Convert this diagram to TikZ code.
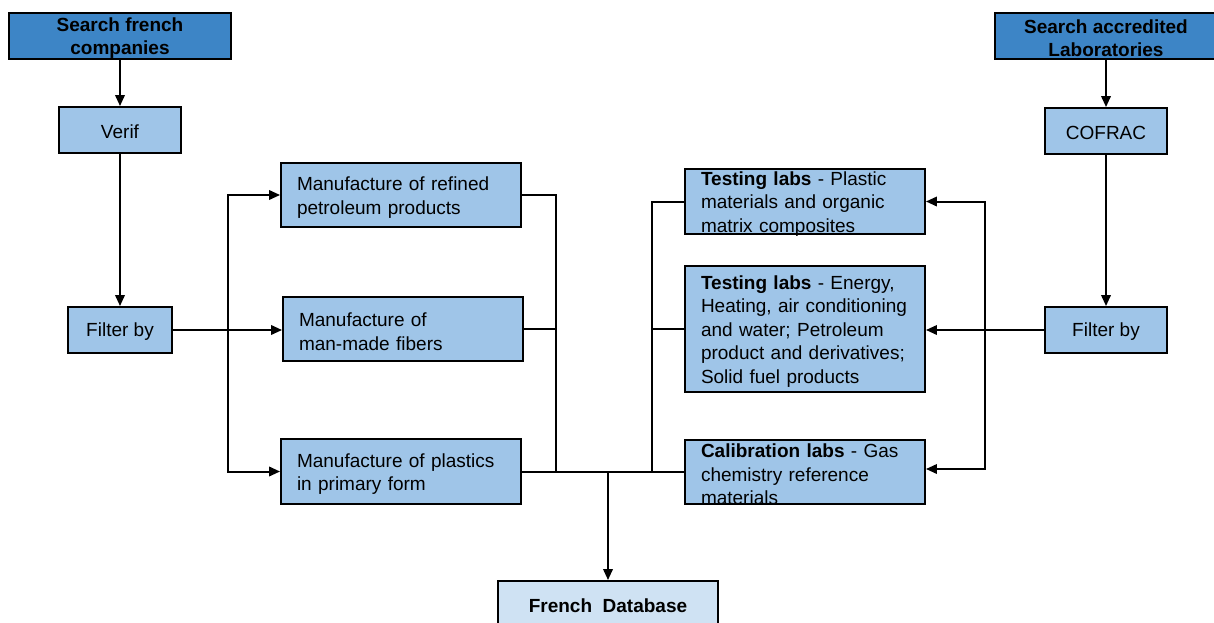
\documentclass[tikz,border=0pt]{standalone}
\usepackage{fontspec}
\setmainfont{Liberation Sans}
\usetikzlibrary{arrows.meta,calc}
\definecolor{hdrblue}{HTML}{3D85C6}
\definecolor{boxblue}{HTML}{9FC5E8}
\definecolor{dbblue}{HTML}{CFE2F3}
\begin{document}
\begin{tikzpicture}[x=1pt,y=-1pt,
  every node/.style={font=\fontsize{19}{23.5}\selectfont},
  basebox/.style={draw=black,line width=1.9pt,rectangle,inner sep=0pt},
  hdrbox/.style={basebox,fill=hdrblue},
  smallbox/.style={basebox,fill=boxblue},
  widebox/.style={basebox,fill=boxblue,minimum width=240pt},
  dbbox/.style={basebox,fill=dbblue},
  ctext/.style={align=center,inner sep=0pt,yshift=-2pt},
  btext/.style={ctext,font=\fontsize{19}{23}\selectfont\bfseries},
  ltext/.style={align=left,inner sep=0pt,text width=208pt,yshift=-2.5pt},
  conn/.style={line width=2pt,draw=black},
  arr/.style={conn,-{Triangle[length=11pt,width=9.5pt]}}]
\useasboundingbox (0,0) rectangle (1214,623);
\clip (0,0) rectangle (1214,623);
% left column
\node[hdrbox,minimum width=222pt,minimum height=46pt] (sfc) at (120,36) {};
\node[btext] (sfc-t) at (sfc) {Search french\\companies};
\node[smallbox,minimum width=122pt,minimum height=46pt] (verif) at (120,130) {};
\node[ctext] (verif-t) at (verif) {Verif};
\node[smallbox,minimum width=104pt,minimum height=46pt] (filtL) at (120,330) {};
\node[ctext] (filtL-t) at (filtL) {Filter by};
% manufacture boxes
\node[widebox,minimum height=64pt] (m1) at (401,195) {};
\node[ltext] (m1-t) at (m1) {Manufacture of refined\\petroleum products};
\node[widebox,minimum height=64pt] (m2) at (403,329) {};
\node[ltext] (m2-t) at (m2) {Manufacture of\\man-made fibers};
\node[widebox,minimum height=65pt] (m3) at (401,471.5) {};
\node[ltext] (m3-t) at (m3) {Manufacture of plastics\\in primary form};
% lab boxes
\node[widebox,minimum height=65pt] (t1) at (805,201.5) {};
\node[ltext] (t1-t) at (t1) {\textbf{Testing labs} - Plastic\\materials and organic\\matrix composites};
\node[widebox,minimum height=126pt] (t2) at (805,329) {};
\node[ltext] (t2-t) at (t2) {\textbf{Testing labs} - Energy,\\Heating, air conditioning\\and water; Petroleum\\product and derivatives;\\Solid fuel products};
\node[widebox,minimum height=64pt] (t3) at (805,472) {};
\node[ltext] (t3-t) at (t3) {\textbf{Calibration labs} - Gas\\chemistry reference\\materials};
% right column
\node[hdrbox,minimum width=222pt,minimum height=46pt] (sal) at (1106,36) {};
\node[btext] (sal-t) at (sal) {Search accredited\\Laboratories};
\node[smallbox,minimum width=122pt,minimum height=46pt] (cofrac) at (1106,131) {};
\node[ctext] (cofrac-t) at (cofrac) {COFRAC};
\node[smallbox,minimum width=122pt,minimum height=46pt] (filtR) at (1106,330) {};
\node[ctext] (filtR-t) at (filtR) {Filter by};
% database
\node[dbbox,minimum width=220pt,minimum height=46pt] (fdb) at (608,604) {};
\node[btext] (fdb-t) at (fdb) {French\ \ Database};
% helper coordinates
\coordinate (bx) at (228,0);
\coordinate (rx) at (556,0);
\coordinate (lx) at (652,0);
\coordinate (qx) at (985,0);
% left connectors
\draw[arr] (sfc.south) -- (verif.north);
\draw[arr] (verif.south) -- (filtL.north);
\draw[arr] (filtL.east) -- (filtL.east -| m2.west);
\draw[arr] (bx |- filtL.east) |- (m1.west);
\draw[arr] (bx |- filtL.east) |- (m3.west);
% merge to database
\draw[conn] (m1.east) -| (rx |- m3.east);
\draw[conn] (m2.east) -- (m2.east -| rx);
\draw[conn] (m3.east) -- (m3.east -| t3.west);
\draw[conn] (t1.west) -| (lx |- m3.east);
\draw[conn] (t2.west) -- (t2.west -| lx);
\coordinate (jm) at (fdb.north |- m3.east);
\draw[arr] (jm) -- (fdb.north);
% right connectors
\draw[arr] (sal.south) -- (cofrac.north);
\draw[arr] (cofrac.south) -- (filtR.north);
\draw[arr] (filtR.west) -- (filtR.west -| t2.east);
\draw[arr] (qx |- filtR.west) |- (t1.east);
\draw[arr] (qx |- filtR.west) |- ($(t3.east)+(0,-3)$);
\end{tikzpicture}
\end{document}
